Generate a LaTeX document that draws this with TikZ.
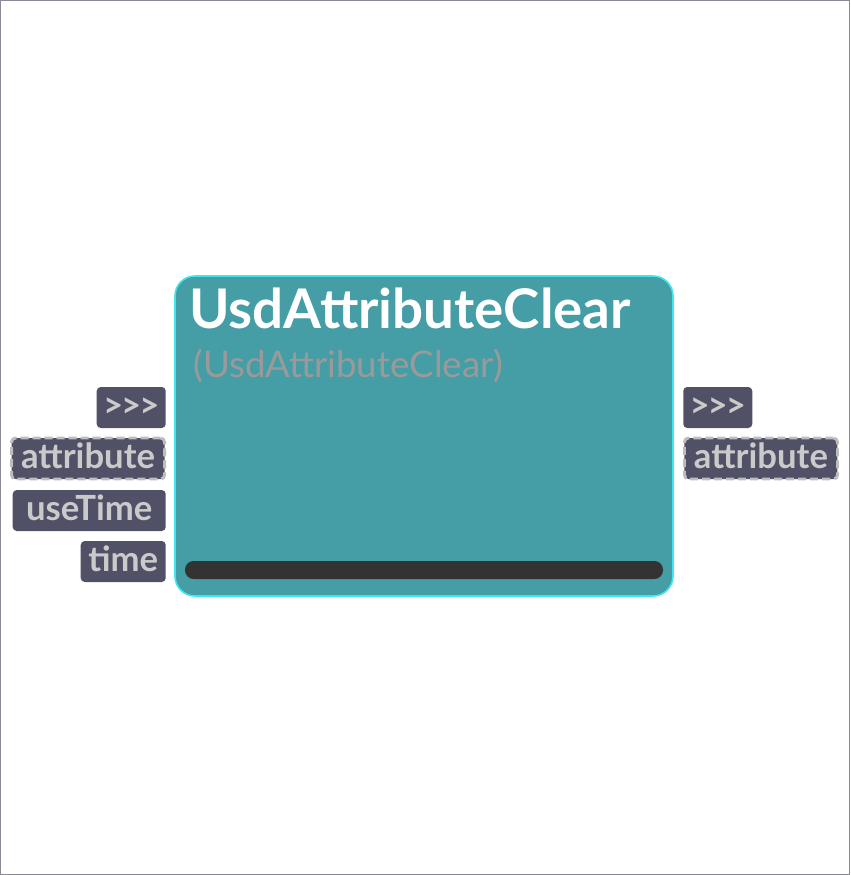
\documentclass[tikz,border=0pt]{standalone}
\usepackage{fontspec}
\setmainfont{Lato}
\usetikzlibrary{positioning}

\definecolor{nodefill}{HTML}{459DA5}
\definecolor{nodeedge}{HTML}{40E6EE}
\definecolor{portfill}{HTML}{505066}
\definecolor{porttext}{HTML}{CACACA}
\definecolor{portedge}{HTML}{BDBDBD}
\definecolor{subtext}{HTML}{9A9A9A}
\definecolor{barfill}{HTML}{333333}
\definecolor{frame}{HTML}{8A8A96}

\tikzset{
    port/.style={rounded corners=3pt, fill=portfill, text=porttext,
        font=\fontsize{26}{26}\selectfont\bfseries,
        minimum height=30.75pt, minimum width=#1, inner xsep=4pt, inner ysep=0pt,
        text height=16pt, text depth=1pt},
    port/.default=10pt,
    linked/.style={port=#1, draw=portedge, line width=2.2pt, dash pattern=on 6pt off 3pt},
    linked/.default=10pt
}
\newcommand{\execmark}{>\kern-1.5pt>\kern-1.5pt>}

\begin{document}
\begin{tikzpicture}[x=0.75pt, y=-0.75pt]
    \useasboundingbox (0,0) rectangle (850,875);
    \draw[frame, line width=0.75pt] (0.5,0.5) rectangle (849.5,874.5);

    % node body
    \draw[fill=nodefill, draw=nodeedge, line width=1.2pt, rounded corners=15pt]
        (175,276) rectangle (673,596);
    \node[anchor=base west, inner sep=0pt, text=white,
        font=\fontsize{41}{41}\selectfont\bfseries] (title) at (189,328) {UsdAttributeClear};
    \node[anchor=base west, inner sep=0pt, text=subtext,
        font=\fontsize{27.5}{28}\selectfont] (subtitle) at (193,377) {(UsdAttributeClear)};
    \fill[barfill, rounded corners=6.5pt] (185,561) rectangle (663,579);

    % inputs
    \node[port=51.75pt, anchor=east] (inexec) at (166,407.5) {\execmark};
    \node[linked=114.75pt, anchor=east] (inattr) at (166,458.5) {attribute};
    \node[port=114.75pt, anchor=east] (inuse) at (166,510.5) {useTime};
    \node[port=63.75pt, anchor=east] (intime) at (166,561.5) {time};

    % outputs
    \node[port=51.75pt, anchor=west] (outexec) at (683,407.5) {\execmark};
    \node[linked=114.75pt, anchor=west] (outattr) at (683,458.5) {attribute};
\end{tikzpicture}
\end{document}
